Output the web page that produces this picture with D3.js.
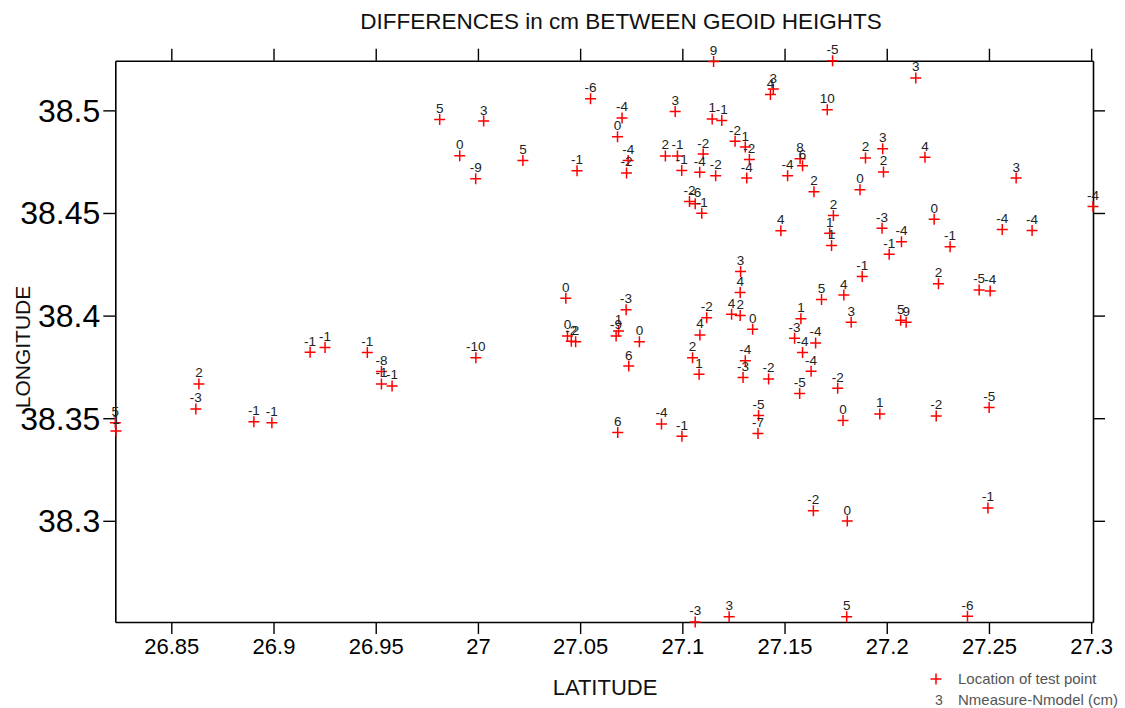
<!DOCTYPE html>
<html>
<head>
<meta charset="utf-8">
<script src="https://cdn.jsdelivr.net/npm/d3@7"></script>
<style>
  html, body { margin: 0; padding: 0; background: #fff; }
  svg text { font-family: "Liberation Sans", Arial, sans-serif; }
</style>
</head>
<body>
<div id="chart"></div>
<script>
// test point positions (degrees) and Nmeasure - Nmodel (cm)
const lat = [
  26.9813, 27.0028, 26.9911, 26.9989, 27.0220, 27.0485, 27.0551, 27.0705, 27.0683, 27.0735,
  27.0727, 27.0965, 27.1146, 27.1193, 27.0917, 27.0976, 27.0997, 27.1102, 27.1085, 27.1163,
  27.1258, 27.1308, 27.1328, 27.1315, 27.1035, 27.1063, 27.1095, 27.1153, 27.1735, 27.1445,
  27.1431, 27.1709, 27.2142, 27.1576, 27.1588, 27.1515, 27.1644, 27.1896, 27.1980, 27.1984,
  27.1869, 27.2187, 27.1739, 27.2232, 27.1482, 27.1721, 27.1730, 27.3009, 27.2633, 27.2565,
  27.2711, 27.1977, 27.2072, 27.2012, 27.2310, 27.2253, 27.2452, 27.2506, 27.2501, 27.2242,
  27.1285, 27.1283, 27.1880, 27.1681, 27.1790, 27.0725, 27.1119, 27.1241, 27.1283, 27.1580,
  27.1826, 27.2068, 27.2095, 27.1344, 27.1086, 27.0790, 27.0688, 27.0676, 27.0430, 27.0438,
  27.0457, 27.0478, 27.1549, 27.1652, 27.1588, 27.0738, 27.1050, 27.1082, 27.1308, 27.1297,
  27.1422, 27.1630, 27.1574, 27.1760, 27.1966, 27.1786, 27.1373, 27.1370, 27.0684, 27.0898,
  27.0998, 26.8635, 26.8620, 26.8904, 26.8992, 26.9179, 26.9252, 26.9459, 26.9528, 26.9528,
  26.9580, 26.9990, 26.8226, 26.8229, 27.1641, 27.1807, 27.2495, 27.1063, 27.1229, 27.1804,
  27.2395
];
const lon = [
  38.4955, 38.4948, 38.4779, 38.4667, 38.4756, 38.4706, 38.5056, 38.4963, 38.4872, 38.4756,
  38.4695, 38.4994, 38.4958, 38.4951, 38.4778, 38.4778, 38.4707, 38.4787, 38.4698, 38.4681,
  38.4849, 38.4821, 38.4760, 38.4670, 38.4556, 38.4545, 38.4499, 38.5238, 38.5242, 38.5104,
  38.5077, 38.5003, 38.5158, 38.4764, 38.4730, 38.4681, 38.4603, 38.4768, 38.4813, 38.4700,
  38.4613, 38.4771, 38.4488, 38.4469, 38.4413, 38.4401, 38.4341, 38.4532, 38.4670, 38.4420,
  38.4415, 38.4426, 38.4360, 38.4299, 38.4335, 38.4155, 38.4125, 38.4120, 38.3552, 38.3511,
  38.4215, 38.4112, 38.4191, 38.4079, 38.4100, 38.4029, 38.3990, 38.4007, 38.4000, 38.3985,
  38.3967, 38.3977, 38.3967, 38.3934, 38.3906, 38.3873, 38.3925, 38.3901, 38.4085, 38.3901,
  38.3875, 38.3872, 38.3889, 38.3867, 38.3820, 38.3754, 38.3794, 38.3714, 38.3780, 38.3698,
  38.3691, 38.3729, 38.3621, 38.3646, 38.3521, 38.3489, 38.3513, 38.3425, 38.3430, 38.3472,
  38.3412, 38.3667, 38.3545, 38.3483, 38.3478, 38.3821, 38.3844, 38.3820, 38.3727, 38.3667,
  38.3657, 38.3795, 38.3478, 38.3438, 38.3049, 38.2999, 38.3063, 38.2507, 38.2532, 38.2532,
  38.2535
];
const diff = [
  5, 3, 0, -9, 5, -1, -6, -4, 0, -4,
  -2, 3, 1, -1, 2, -1, -1, -2, -4, -2,
  -2, 1, -2, -4, -2, -6, -1, 9, -5, 3,
  4, 10, 3, 8, 6, -4, 2, 2, 3, 2,
  0, 4, 2, 0, 4, 1, 1, -4, 3, -4,
  -4, -3, -4, -1, -1, 2, -5, -4, -5, -2,
  3, 4, -1, 5, 4, -3, -2, 4, 2, 1,
  3, 5, 9, 0, 4, 0, 1, -9, 0, 0,
  -2, 2, -3, -4, -4, 6, 2, 1, -4, -3,
  -2, -4, -5, -2, 1, 0, -5, -7, 6, -4,
  -1, 2, -3, -1, -1, -1, -1, -1, -8, -1,
  -1, -10, 5, 1, -2, 0, -1, -3, 3, 5,
  -6
];

const xTicks = [26.85, 26.9, 26.95, 27, 27.05, 27.1, 27.15, 27.2, 27.25, 27.3];
const yTicks = [38.3, 38.35, 38.4, 38.45, 38.5];

const title = 'DIFFERENCES in cm BETWEEN GEOID HEIGHTS';
const xTitle = 'LATITUDE';
const yTitle = 'LONGITUDE';
const legendItems = ['Location of test point', 'Nmeasure-Nmodel (cm)'];

const points = lat.map((d, i) => ({ lat: d, lon: lon[i], diff: diff[i] }));

const W = 1125, H = 708;
const margin = { t: 60.7, r: 32, b: 86, l: 115.3 };
const width = W - margin.l - margin.r;
const height = H - margin.t - margin.b;

const svg = d3.select('#chart')
  .append('svg')
    .attr('width', W)
    .attr('height', H);

svg.append('rect').attr('width', W).attr('height', H).attr('fill', '#fff');

const g = svg.append('g')
  .attr('transform', 'translate(' + margin.l + ',' + margin.t + ')');

const x = d3.scaleLinear().domain(d3.extent(lat)).range([0, width]);
const y = d3.scaleLinear().domain(d3.extent(lon)).range([height, 0]);

// bottom / top axes
g.append('g')
  .attr('class', 'axis')
  .attr('transform', 'translate(0,' + height + ')')
  .call(d3.axisBottom(x).tickValues(xTicks).tickSize(12).tickSizeOuter(0).tickPadding(4).tickFormat(d3.format('')))
  .call(a => a.selectAll('text').attr('font-size', '22px').attr('fill', '#000'));

g.append('g')
  .attr('class', 'axis')
  .call(d3.axisTop(x).tickValues(xTicks).tickSize(12).tickSizeOuter(0).tickFormat(''));

// left / right axes
g.append('g')
  .attr('class', 'axis')
  .call(d3.axisLeft(y).tickValues(yTicks).tickSize(12).tickSizeOuter(0).tickPadding(3).tickFormat(d3.format('')))
  .call(a => a.selectAll('text').attr('font-size', '32px').attr('dy', '0.34em').attr('fill', '#000'));

g.append('g')
  .attr('class', 'axis')
  .attr('transform', 'translate(' + width + ',0)')
  .call(d3.axisRight(y).tickValues(yTicks).tickSize(12).tickSizeOuter(0).tickFormat(''));

g.selectAll('.axis path, .axis line')
  .attr('stroke', '#000')
  .attr('stroke-width', 1.4);
g.selectAll('.axis .domain').attr('stroke-width', 1.6);

// test points
const cross = 'M-5.5,0H5.5M0,-5.5V5.5';

g.append('g')
  .selectAll('path')
  .data(points)
  .join('path')
    .attr('transform', d => 'translate(' + x(d.lat) + ',' + y(d.lon) + ')')
    .attr('d', cross)
    .attr('fill', 'none')
    .attr('stroke', '#ff0000')
    .attr('stroke-width', 1.5);

g.append('g')
  .selectAll('text')
  .data(points)
  .join('text')
    .attr('x', d => x(d.lat))
    .attr('y', d => y(d.lon) - 6.5)
    .attr('text-anchor', 'middle')
    .attr('font-size', '13.5px')
    .attr('fill', '#222')
    .text(d => d.diff);

// titles
svg.append('text')
  .attr('x', 621)
  .attr('y', 29)
  .attr('text-anchor', 'middle')
  .attr('font-size', '22.5px')
  .attr('fill', '#111')
  .text(title);

svg.append('text')
  .attr('x', 605)
  .attr('y', 695)
  .attr('text-anchor', 'middle')
  .attr('font-size', '22px')
  .attr('fill', '#111')
  .text(xTitle);

svg.append('text')
  .attr('transform', 'translate(30,347) rotate(-90)')
  .attr('text-anchor', 'middle')
  .attr('font-size', '21px')
  .attr('fill', '#111')
  .text(yTitle);

// legend
const legend = svg.append('g').attr('transform', 'translate(936,679)');
legend.append('path')
  .attr('d', cross)
  .attr('fill', 'none')
  .attr('stroke', '#ff0000')
  .attr('stroke-width', 1.5);
legend.append('text')
  .attr('x', 22).attr('y', 5)
  .attr('font-size', '15px')
  .attr('fill', '#555')
  .text(legendItems[0]);
legend.append('text')
  .attr('x', 3).attr('y', 26)
  .attr('text-anchor', 'middle')
  .attr('font-size', '14px')
  .attr('fill', '#555')
  .text('3');
legend.append('text')
  .attr('x', 22).attr('y', 26)
  .attr('font-size', '15px')
  .attr('fill', '#555')
  .text(legendItems[1]);
</script>
</body>
</html>
